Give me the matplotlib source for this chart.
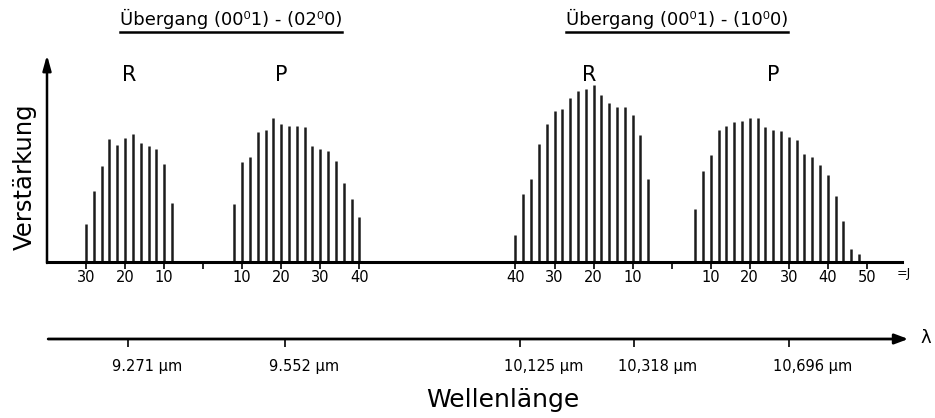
import numpy as np
import matplotlib
matplotlib.use("Agg")
import matplotlib.pyplot as plt
from matplotlib.transforms import offset_copy
from matplotlib.lines import Line2D

plt.rcParams['font.family'] = ['DejaVu Sans']

# ---- data (gain per rotational line, arbitrary units) ----
# transition (00^0 1) - (02^0 0)
J_R1 = np.arange(30, 7, -2)
H_R1 = [38, 71, 96, 123, 117, 124, 128, 119, 116, 113, 98, 59]
J_P1 = np.arange(8, 41, 2)
H_P1 = [58, 100, 105, 130, 132, 144, 138, 136, 136, 135, 116, 113, 111, 101, 79, 63, 45]
# transition (00^0 1) - (10^0 0)
J_R2 = np.arange(40, 5, -2)
H_R2 = [27, 68, 83, 118, 138, 151, 153, 164, 171, 173, 177, 167, 159, 155, 155, 147, 127, 83]
J_P2 = np.arange(6, 49, 2)
H_P2 = [53, 91, 107, 132, 136, 140, 141, 144, 144, 135, 132, 131, 125, 122, 108, 105,
        97, 87, 66, 41, 13, 8]

tick_R1 = [30, 20, 10]
tick_P1 = [10, 20, 30, 40]
tick_R2 = [40, 30, 20, 10]
tick_P2 = [10, 20, 30, 40, 50]

branch_names = ["R", "P", "R", "P"]
branch_label_J = [19, 20, 21, 26]

titles = ["Übergang (00⁰1) - (02⁰0)", "Übergang (00⁰1) - (10⁰0)"]

lam_labels = ["9.271 μm", "9.552 μm", "10,125 μm", "10,318 μm", "10,696 μm"]
lam_pos = [20.7, 61.0, 121.1, 150.3, 190.1]

# ---- layout ----
W, H = 935, 418
fig = plt.figure(figsize=(W / 100, H / 100), dpi=100)
O1, O2 = 40, 160          # band origins (J = 0) on the common axis
XMAX, YMAX = 219, 207

ax = fig.add_axes([47 / W, (H - 262) / H, (902 - 47) / W, 207 / H])
ax.set_xlim(0, XMAX)
ax.set_ylim(0, YMAX)

bar_kw = dict(color="#1c1c1c", lw=1.8)
ax.vlines(O1 - J_R1, 0, H_R1, **bar_kw)
ax.vlines(O1 + J_P1, 0, H_P1, **bar_kw)
ax.vlines(O2 - J_R2, 0, H_R2, **bar_kw)
ax.vlines(O2 + J_P2, 0, H_P2, **bar_kw)

for s in ["top", "right", "left"]:
    ax.spines[s].set_visible(False)
ax.spines["bottom"].set_linewidth(2.2)

ticks = ([O1 - j for j in tick_R1] + [O1] + [O1 + j for j in tick_P1] +
         [O2 - j for j in tick_R2] + [O2] + [O2 + j for j in tick_P2])
labels = ([str(j) for j in tick_R1] + [""] + [str(j) for j in tick_P1] +
          [str(j) for j in tick_R2] + [""] + [str(j) for j in tick_P2])
ax.set_xticks(ticks)
ax.set_xticklabels(labels)
ax.tick_params(axis="x", direction="out", length=5, width=1.2, pad=1, labelsize=10.5)
ax.set_yticks([])

ax.text(XMAX - 1.5, -11, "=J", ha="left", va="center", fontsize=9, clip_on=False)

# y axis with arrow
ax.annotate("", xy=(0, YMAX), xytext=(0, -1), xycoords="data",
            arrowprops=dict(arrowstyle="-|>,head_length=0.9,head_width=0.25",
                            lw=1.8, color="k", shrinkA=0, shrinkB=0),
            annotation_clip=False)
ax.text(-22 / 3.9, 85, "Verstärkung", rotation=90, ha="center", va="center",
        fontsize=17.5, clip_on=False)

# branch letters
origins = [O1, O1, O2, O2]
signs = [-1, 1, -1, 1]
for name, jl, o, sg in zip(branch_names, branch_label_J, origins, signs):
    ax.text(o + sg * jl, 187, name, ha="center", va="center", fontsize=15)

# titles with underline
fig.canvas.draw()
renderer = fig.canvas.get_renderer()
for t, xc in zip(titles, [231, 677]):
    txt = fig.text(xc / W, 1 - 19 / H, t, ha="center", va="center", fontsize=13)
    bb = txt.get_window_extent(renderer)
    fig.add_artist(Line2D([bb.x0 / W, bb.x1 / W], [1 - 32 / H, 1 - 32 / H],
                          transform=fig.transFigure, color="k", lw=1.8))

# wavelength axis
ax2 = fig.add_axes([47 / W, (H - 339) / H, (902 - 47) / W, 1 / H])
ax2.set_xlim(0, XMAX)
ax2.set_ylim(0, 1)
for s in ax2.spines.values():
    s.set_visible(False)
ax2.set_yticks([])
ax2.set_xticks(lam_pos)
ax2.set_xticklabels([])
ax2.tick_params(axis="x", direction="out", length=6, width=1.2)
ax2.annotate("", xy=(XMAX + 1.6, 0), xytext=(0.3, 0), xycoords="data",
             arrowprops=dict(arrowstyle="-|>,head_length=0.8,head_width=0.3",
                             lw=2.0, color="k", shrinkA=0, shrinkB=0),
             annotation_clip=False)
tr = offset_copy(ax2.transData, fig=fig, x=-16, y=-27, units="dots")
for lab, p in zip(lam_labels, lam_pos):
    ax2.text(p, 0, lab, transform=tr, ha="left", va="center", fontsize=10.5)
fig.text(926 / W, 1 - 338 / H, "λ", ha="center", va="center", fontsize=13)
fig.text(503 / W, 1 - 400 / H, "Wellenlänge", ha="center", va="center", fontsize=18)

fig.savefig("out.png", dpi=100)
